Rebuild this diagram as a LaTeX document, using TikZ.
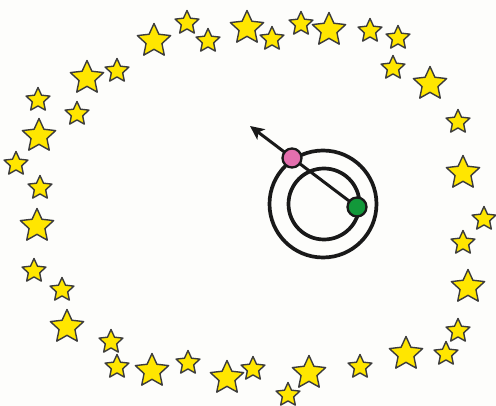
\documentclass[tikz,border=0pt]{standalone}
\usetikzlibrary{shapes.geometric,arrows.meta}
\definecolor{staryellow}{HTML}{FFE600}
\definecolor{staredge}{HTML}{3C3C3C}
\definecolor{dotpink}{HTML}{E46FAE}
\definecolor{dotgreen}{HTML}{12983A}
\definecolor{bgwhite}{HTML}{FDFDFB}
\tikzset{
  starbig/.style={star, star points=5, star point ratio=2.1, minimum size=35pt, inner sep=0pt,
    draw=staredge, fill=staryellow, line width=1.4pt, line join=round},
  starsmall/.style={starbig, minimum size=25pt},
  ring/.style={circle, draw=black!90, line width=3.7pt, inner sep=0pt},
  dotbase/.style={circle, draw=black!90, line width=2.3pt, minimum size=19pt, inner sep=0pt},
  pinkdot/.style={dotbase, fill=dotpink},
  greendot/.style={dotbase, fill=dotgreen},
  pointer/.style={draw=black!90, line width=3pt, -{Stealth[length=14pt,width=13pt,inset=3.5pt]}}
}
\begin{document}
\begin{tikzpicture}[x=1pt,y=-1pt]
\useasboundingbox (0,0) rectangle (496,406);
\fill[bgwhite] (0,0) rectangle (496,406);
% stars: big
\foreach \i/\x/\y in {1/154/41, 2/247/28, 3/329/30, 4/430/84, 5/463/173, 6/468/287, 7/406/354,
  8/309/373, 9/227/378, 10/152/371, 11/67/327, 12/37/226, 13/39/136, 14/87/78}
  \node[starbig] (b\i) at (\x,\y) {};
% stars: small
\foreach \i/\x/\y in {1/187/23, 2/208/41, 3/272/39, 4/301/24, 5/370/31, 6/398/38, 7/393/68,
  8/458/122, 9/484/219, 10/463/243, 11/458/331, 12/446/354, 13/360/367, 14/288/395,
  15/253/369, 16/188/363, 17/117/367, 18/111/342, 19/62/290, 20/34/271, 21/40/188,
  22/16/164, 23/38/100, 24/77/114, 25/117/71}
  \node[starsmall] (s\i) at (\x,\y) {};
% rings
\node[ring, minimum size=107pt] (outer) at (323,204) {};
\node[ring, minimum size=71pt] (inner) at (324,204) {};
% pointer
\coordinate (g) at (357,207);
\coordinate (tip) at (250,126);
\draw[pointer] (g) -- (tip);
\node[pinkdot] (pink) at (292,158) {};
\node[greendot] (green) at (g) {};
\end{tikzpicture}
\end{document}
